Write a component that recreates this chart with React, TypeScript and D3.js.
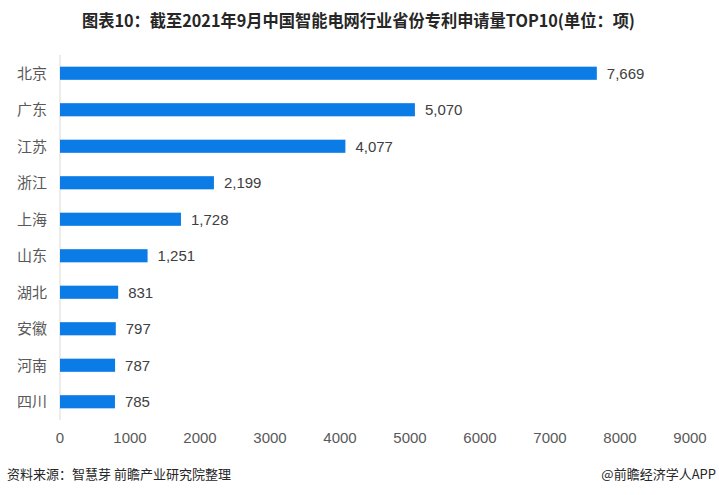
import * as d3 from 'd3';

const provinces = ['北京', '广东', '江苏', '浙江', '上海', '山东', '湖北', '安徽', '河南', '四川'];
const patents = [7669, 5070, 4077, 2199, 1728, 1251, 831, 797, 787, 785];
const xTicks = [0, 1000, 2000, 3000, 4000, 5000, 6000, 7000, 8000, 9000];

const W = 719;
const H = 495;
const cjk = '"Noto Sans CJK SC", "Noto Sans", sans-serif';
const latin = '"Liberation Sans", Arial, sans-serif';

export default function App() {
  const x = d3.scaleLinear().domain([0, 9000]).range([60, 690]);
  const y = d3.scaleBand<string>()
    .domain(provinces)
    .range([55, 420])
    .paddingInner(0.64)
    .paddingOuter(0.32);
  const fmt = d3.format(',');

  return (
    <svg width={W} height={H} style={{ position: 'absolute', top: 0, left: 0, background: '#fff' }}>
      <text x={358.5} y={27} textAnchor="middle" fontFamily={cjk} fontWeight="bold" fontSize={17} fill="#262626"
        textLength={553} lengthAdjust="spacingAndGlyphs">
        图表10：截至2021年9月中国智能电网行业省份专利申请量TOP10(单位：项)
      </text>

      {/* 纵轴线 */}
      <line x1={x(0)} x2={x(0)} y1={55} y2={420} stroke="#d9d9d9" strokeWidth={1} />

      {provinces.map((p, i) => {
        const yy = y(p)!;
        const bw = y.bandwidth();
        return (
          <g key={p}>
            <text x={47} y={yy + bw / 2} dy="0.35em" textAnchor="end" fontFamily={cjk} fontSize={15} fill="#595959">
              {p}
            </text>
            <rect x={x(0)} y={yy} width={x(patents[i]) - x(0)} height={bw} fill="#0b7be6" />
            <text x={x(patents[i]) + 10} y={yy + bw / 2} dy="0.35em" fontFamily={latin} fontSize={15} fill="#404040">
              {fmt(patents[i])}
            </text>
          </g>
        );
      })}

      {xTicks.map(t => (
        <text key={t} x={x(t)} y={438} dy="0.35em" textAnchor="middle" fontFamily={latin} fontSize={15} fill="#595959">
          {t}
        </text>
      ))}

      <text x={7} y={479} fontFamily={cjk} fontSize={13} fill="#262626">
        资料来源：智慧芽 前瞻产业研究院整理
      </text>
      <text x={716} y={479} textAnchor="end" fontFamily={cjk} fontSize={13} fill="#262626">
        @前瞻经济学人APP
      </text>
    </svg>
  );
}
